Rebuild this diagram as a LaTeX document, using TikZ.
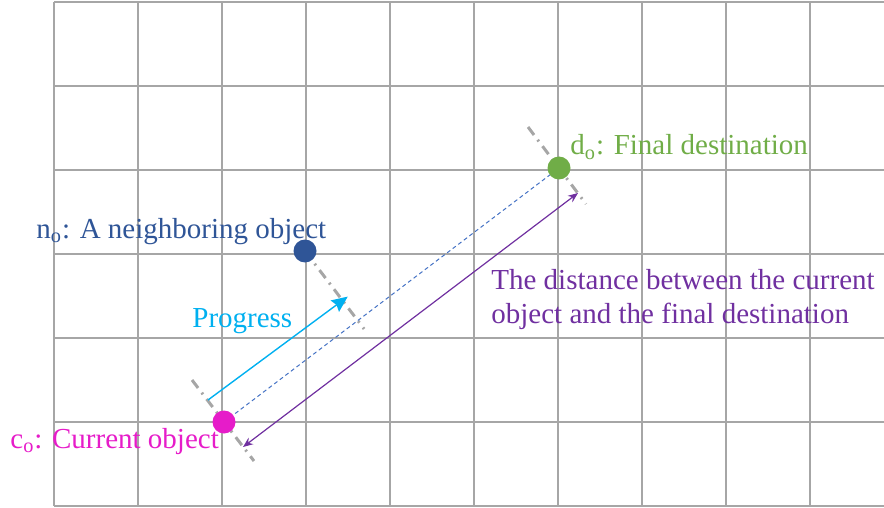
\documentclass[tikz,border=0pt]{standalone}
\usepackage{fontspec}
\setmainfont{Liberation Serif}
\usetikzlibrary{arrows.meta,calc}
\definecolor{gridgray}{HTML}{A6A6A6}
\definecolor{curmag}{HTML}{E61CC9}
\definecolor{nbrblue}{HTML}{2F5597}
\definecolor{dstgreen}{HTML}{70AD47}
\definecolor{progcyan}{HTML}{00B0F0}
\definecolor{distpurple}{HTML}{7030A0}
\definecolor{pathblue}{HTML}{4472C4}

\begin{document}
\begin{tikzpicture}[x=0.5pt,y=-0.5pt,font=\fontsize{14.5}{17}\selectfont,
  objdot/.style={circle,inner sep=0pt,minimum size=11.5pt},
  guide/.style={gridgray,line width=1.5pt,dash pattern=on 5pt off 3pt on 1pt off 3pt},
  lbl/.style={anchor=base west,inner sep=0pt}]
  \useasboundingbox (0,0) rectangle (884,508);

  % grid
  \foreach \x in {54,138,...,810}
    \draw[gridgray,line width=1pt] (\x,2) -- (\x,506);
  \foreach \y in {2,86,...,506}
    \draw[gridgray,line width=1pt] (54,\y) -- (884,\y);

  \coordinate (cur) at (224,422);
  \coordinate (nbr) at (305,251);
  \coordinate (dst) at (559,168);
  \coordinate (proj) at ($(cur)!(nbr)!(dst)$);

  % guides across the direction of travel
  \draw[guide] ($(cur)+(-32,-42)$) -- ($(cur)+(30,39)$);
  \draw[guide] ($(dst)+(-31,-41)$) -- ($(dst)+(27,36)$);
  \draw[guide] (nbr) -- ($(nbr)!1.12!(proj)$);

  \draw[pathblue,line width=0.5pt,dash pattern=on 2pt off 1.5pt] (cur) -- (dst);
  \draw[-{Stealth[length=8pt,width=7pt,inset=1pt]},progcyan,line width=0.7pt]
    ($(cur)+(-16,-22)$) -- ($(proj)+(-10,-24)$);
  \draw[{Stealth[length=5pt,width=4pt]}-{Stealth[length=5pt,width=4pt]},distpurple,line width=0.6pt]
    ($(cur)+(19,25)$) -- ($(dst)+(19,25)$);

  \node[objdot,fill=curmag] (curdot) at (cur) {};
  \node[objdot,fill=nbrblue] (nbrdot) at (nbr) {};
  \node[objdot,fill=dstgreen] (dstdot) at (dst) {};

  \node[lbl,color=curmag] (curlbl) at (10,448) {c\textsubscript{o}: Current object};
  \node[lbl,color=nbrblue] (nbrlbl) at (36,238) {n\textsubscript{o}: A neighboring object};
  \node[lbl,color=dstgreen] (dstlbl) at (570,155) {d\textsubscript{o}: Final destination};
  \node[lbl,color=progcyan] (proglbl) at (192,327) {Progress};
  \node[lbl,color=distpurple,align=left] (distlbl) at (491,323)
    {The distance between the current\\object and the final destination};
\end{tikzpicture}
\end{document}
